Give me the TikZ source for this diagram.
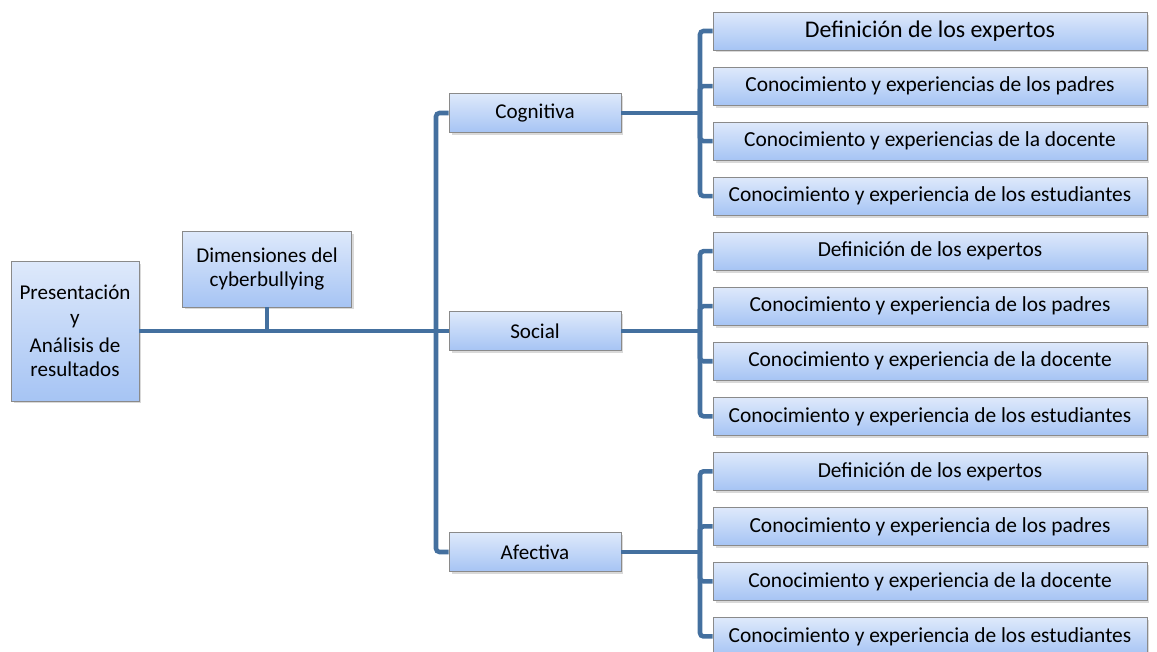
\documentclass[tikz,border=0pt]{standalone}
\usepackage{fontspec}
\setmainfont{Carlito}
\usepackage{tikz}
\usetikzlibrary{positioning,shadows}
\definecolor{linkblue}{HTML}{44709F}
\definecolor{boxtop}{HTML}{DEE9FB}
\definecolor{boxbottom}{HTML}{A6C4F4}
\definecolor{boxline}{HTML}{8A8A8A}

\begin{document}
\begin{tikzpicture}[
  x=0.02cm, y=-0.02cm,
  node distance=0.327cm,
  box/.style={draw=boxline, thin, top color=boxtop, bottom color=boxbottom,
              align=center, inner sep=1pt,
              drop shadow={shadow xshift=0.05cm, shadow yshift=-0.05cm, opacity=0.3}},
  root/.style={box, minimum width=2.56cm, minimum height=2.8cm,
               font=\fontsize{12}{14}\selectfont},
  dimbox/.style={box, minimum width=3.38cm, minimum height=1.52cm,
                 font=\fontsize{12}{13.5}\selectfont},
  topic/.style={box, minimum width=3.44cm, minimum height=0.78cm,
                font=\fontsize{12}{13}\selectfont},
  leaf/.style={box, minimum width=8.68cm, minimum height=0.76cm,
               font=\fontsize{12.2}{13}\selectfont},
  link/.style={draw=linkblue, line width=2.6pt, rounded corners=2pt}
]
  \useasboundingbox (0,0) rectangle (1157,652);

  \node[root] (pres) at (75,331) {Presentación\\y\\[2pt]Análisis de\\resultados};
  \node[dimbox] (dim) at (267,269) {Dimensiones del\\cyberbullying};

  \node[topic] (cog) at (535,113) {Cognitiva};
  \node[topic] (soc) at (535,331) {Social};
  \node[topic] (afe) at (535,552) {Afectiva};

  % cognitiva
  \node[leaf, font=\fontsize{13.6}{15}\selectfont] (cog1) at (930,31) {Definición de los expertos};
  \node[leaf, below=of cog1] (cog2) {Conocimiento y experiencias de los padres};
  \node[leaf, below=of cog2] (cog3) {Conocimiento y experiencias de la docente};
  \node[leaf, below=of cog3] (cog4) {Conocimiento y experiencia de los estudiantes};

  % social
  \node[leaf, below=of cog4] (soc1) {Definición de los expertos};
  \node[leaf, below=of soc1] (soc2) {Conocimiento y experiencia de los padres};
  \node[leaf, below=of soc2] (soc3) {Conocimiento y experiencia de la docente};
  \node[leaf, below=of soc3] (soc4) {Conocimiento y experiencia de los estudiantes};

  % afectiva
  \node[leaf, below=of soc4] (afe1) {Definición de los expertos};
  \node[leaf, below=of afe1] (afe2) {Conocimiento y experiencia de los padres};
  \node[leaf, below=of afe2] (afe3) {Conocimiento y experiencia de la docente};
  \node[leaf, below=of afe3] (afe4) {Conocimiento y experiencia de los estudiantes};

  \coordinate (trunk) at (436,331);
  \coordinate (cogbar) at (700,113);
  \coordinate (socbar) at (700,331);
  \coordinate (afebar) at (700,552);

  \draw[link] (pres.east) -- (trunk);
  \draw[link] (dim.south) -- (dim.south |- trunk);
  \draw[link] (trunk) |- (cog.west);
  \draw[link] (trunk) |- (afe.west);
  \draw[link] (trunk) -- (soc.west);

  \draw[link] (cog.east) -- (cogbar);
  \draw[link] (cogbar) |- (cog1.west);
  \draw[link] (cogbar) |- (cog2.west);
  \draw[link] (cogbar) |- (cog3.west);
  \draw[link] (cogbar) |- (cog4.west);

  \draw[link] (soc.east) -- (socbar);
  \draw[link] (socbar) |- (soc1.west);
  \draw[link] (socbar) |- (soc2.west);
  \draw[link] (socbar) |- (soc3.west);
  \draw[link] (socbar) |- (soc4.west);

  \draw[link] (afe.east) -- (afebar);
  \draw[link] (afebar) |- (afe1.west);
  \draw[link] (afebar) |- (afe2.west);
  \draw[link] (afebar) |- (afe3.west);
  \draw[link] (afebar) |- (afe4.west);
\end{tikzpicture}
\end{document}
